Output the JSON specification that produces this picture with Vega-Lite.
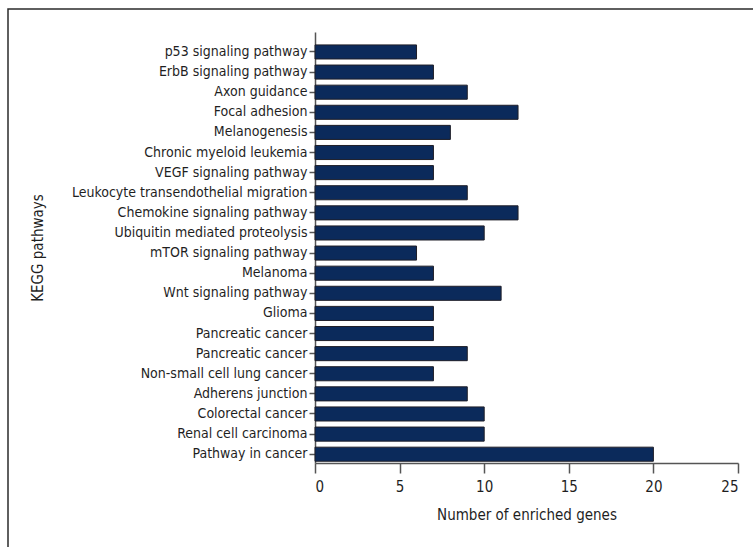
{
  "$schema": "https://vega.github.io/schema/vega-lite/v6.json",
  "width": 745,
  "height": 538,
  "autosize": {"type": "none"},
  "padding": {"left": 8, "top": 9, "right": 0, "bottom": 0},
  "background": "white",
  "data": {
    "values": [
      {"pathway": "p53 signaling pathway", "genes": 6},
      {"pathway": "ErbB signaling pathway", "genes": 7},
      {"pathway": "Axon guidance", "genes": 9},
      {"pathway": "Focal adhesion", "genes": 12},
      {"pathway": "Melanogenesis", "genes": 8},
      {"pathway": "Chronic myeloid leukemia", "genes": 7},
      {"pathway": "VEGF signaling pathway", "genes": 7},
      {"pathway": "Leukocyte transendothelial migration", "genes": 9},
      {"pathway": "Chemokine signaling pathway", "genes": 12},
      {"pathway": "Ubiquitin mediated proteolysis", "genes": 10},
      {"pathway": "mTOR signaling pathway", "genes": 6},
      {"pathway": "Melanoma", "genes": 7},
      {"pathway": "Wnt signaling pathway", "genes": 11},
      {"pathway": "Glioma", "genes": 7},
      {"pathway": "Pancreatic cancer", "genes": 7},
      {"pathway": "Pancreatic cancer\u200b", "genes": 9},
      {"pathway": "Non-small cell lung cancer", "genes": 7},
      {"pathway": "Adherens junction", "genes": 9},
      {"pathway": "Colorectal cancer", "genes": 10},
      {"pathway": "Renal cell carcinoma", "genes": 10},
      {"pathway": "Pathway in cancer", "genes": 20}
    ]
  },
  "mark": {"type": "bar", "fill": "#0b2a5b", "stroke": "#1e1e28", "strokeWidth": 1},
  "encoding": {
    "y": {
      "field": "pathway",
      "type": "nominal",
      "sort": null,
      "scale": {"range": [23, 454], "paddingInner": 0.3, "paddingOuter": 0.365, "align": 0.88},
      "axis": {
        "title": "KEGG pathways",
        "offset": -307,
        "tickSize": 6,
        "labelPadding": 2,
        "labelLimit": 0,
        "labelFontSize": 14,
        "titleX": -270
      }
    },
    "x": {
      "field": "genes",
      "type": "quantitative",
      "scale": {"domain": [0, 25], "range": [307, 730], "nice": false},
      "axis": {
        "title": "Number of enriched genes",
        "offset": -84,
        "values": [0, 5, 10, 15, 20, 25],
        "tickSize": 10,
        "labelPadding": 6,
        "labelFontSize": 15,
        "titlePadding": 13,
        "grid": false
      }
    }
  },
  "config": {
    "font": "DejaVu Sans Condensed, sans-serif",
    "view": {"stroke": "#2b2b2b", "strokeWidth": 1.5, "strokeDash": [745, 1283, 540, 10]},
    "axis": {
      "domainColor": "#555555",
      "domainWidth": 1.5,
      "tickColor": "#555555",
      "tickWidth": 1.5,
      "labelFont": "DejaVu Sans Condensed, sans-serif",
      "labelColor": "#1f1f1f",
      "titleFont": "DejaVu Sans Condensed, sans-serif",
      "titleFontSize": 15,
      "titleFontWeight": "normal",
      "titleColor": "#1f1f1f",
      "grid": false
    }
  }
}
